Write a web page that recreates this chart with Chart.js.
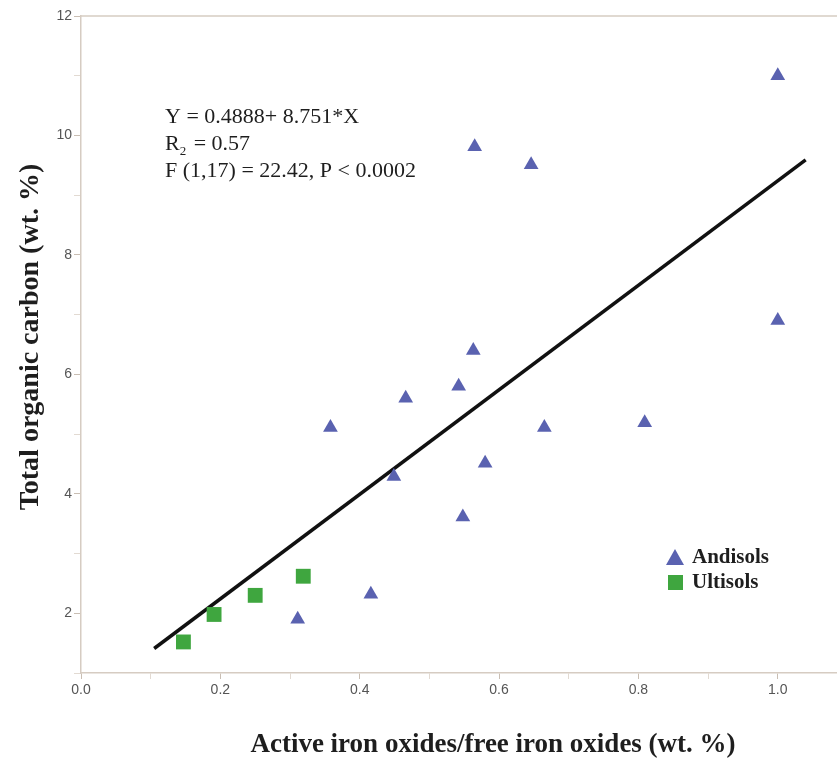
<!DOCTYPE html>
<html>
<head>
<meta charset="utf-8">
<script src="https://cdn.jsdelivr.net/npm/chart.js@4.4.0/dist/chart.umd.min.js"></script>
<style>
   html, body { margin: 0; padding: 0; background: #fff; }
   #wrap { width: 837px; height: 758px; position: relative; }
</style>
</head>
<body>
<div id="wrap"><canvas id="myChart"></canvas></div>
<script>
"use strict";

// Andisols (triangles)
const andisolsX = [1.0, 0.565, 0.646, 1.0, 0.563, 0.542, 0.466, 0.358, 0.665, 0.809, 0.580, 0.449, 0.548, 0.416, 0.311];
const andisolsY = [11.0, 9.81, 9.51, 6.9, 6.40, 5.80, 5.60, 5.11, 5.11, 5.19, 4.51, 4.29, 3.61, 2.32, 1.90];

// Ultisols (squares)
const ultisolsX = [0.147, 0.191, 0.250, 0.319];
const ultisolsY = [1.52, 1.98, 2.30, 2.62];

// regression line end points
const fitX = [0.105, 1.04];
const fitY = [1.41, 9.59];

const yTicks = [2, 4, 6, 8, 10, 12];
const xTickValues = [0, 0.1, 0.2, 0.3, 0.4, 0.5, 0.6, 0.7, 0.8, 0.9, 1.0];
const xTicks = ["0.0", "", "0.2", "", "0.4", "", "0.6", "", "0.8", "", "1.0"];

const equationLines = ["Y = 0.4888+ 8.751*X", "R", "F (1,17) = 22.42, P < 0.0002"];

const axisColor = "#d6ccc2";
const triColor = "#5a62b0";
const sqColor = "#3fa63f";

function pts(xs, ys) {
   return xs.map((x, i) => ({ x: x, y: ys[i] }));
}

const overlay = {
   id: "overlay",
   afterDraw(chart) {
      const c = chart.ctx;
      const a = chart.chartArea;
      c.save();
      // top frame line
      c.strokeStyle = axisColor;
      c.lineWidth = 1.5;
      c.beginPath();
      c.moveTo(a.left, a.top);
      c.lineTo(a.right, a.top);
      c.stroke();

      // equation text
      const serif = "'Liberation Serif', 'Times New Roman', serif";
      c.fillStyle = "#1e1e1e";
      c.font = "22px " + serif;
      c.textBaseline = "middle";
      c.textAlign = "left";
      c.fillText(equationLines[0], 165, 117);
      c.fillText(equationLines[1], 165, 144);
      let w = c.measureText("R").width;
      c.font = "13px " + serif;
      c.fillText("2", 165 + w, 152);
      c.font = "22px " + serif;
      c.fillText("= 0.57", 165 + w + 14, 144);
      c.fillText(equationLines[2], 165, 171);

      // legend
      c.fillStyle = triColor;
      c.beginPath();
      c.moveTo(675, 549);
      c.lineTo(684, 565);
      c.lineTo(666, 565);
      c.closePath();
      c.fill();
      c.fillStyle = sqColor;
      c.fillRect(668, 575, 15, 15);
      c.fillStyle = "#1e1e1e";
      c.font = "bold 21px " + serif;
      c.fillText("Andisols", 692, 558);
      c.fillText("Ultisols", 692, 583);

      // axis titles
      c.font = "bold 27px " + serif;
      c.textAlign = "center";
      c.fillText("Active iron oxides/free iron oxides (wt. %)", 493, 745);
      c.translate(31, 337);
      c.rotate(-Math.PI / 2);
      c.font = "bold 28px " + serif;
      c.fillText("Total organic carbon (wt. %)", 0, 0);
      c.restore();
   },
};

const ctx = document.getElementById("myChart").getContext("2d");
const myChart = new Chart(ctx, {
   type: "scatter",
   data: {
      datasets: [
         {
            label: "Andisols",
            data: pts(andisolsX, andisolsY),
            pointStyle: "triangle",
            pointRadius: 8.5,
            backgroundColor: triColor,
            borderColor: triColor,
            borderWidth: 0,
         },
         {
            label: "Ultisols",
            data: pts(ultisolsX, ultisolsY),
            pointStyle: "rect",
            pointRadius: 10.5,
            backgroundColor: sqColor,
            borderColor: sqColor,
            borderWidth: 0,
         },
         {
            label: "fit",
            data: pts(fitX, fitY),
            showLine: true,
            pointRadius: 0,
            borderColor: "#111",
            borderWidth: 3.5,
         },
      ],
   },
   options: {
      responsive: true,
      maintainAspectRatio: false,
      animation: false,
      layout: { autoPadding: false, padding: { top: 16, right: 0, left: 0, bottom: 0 } },
      plugins: {
         legend: { display: false },
         tooltip: { enabled: false },
      },
      scales: {
         x: {
            type: "linear",
            min: 0,
            max: 1.085,
            afterBuildTicks(scale) {
               scale.ticks = xTickValues.map((v) => ({ value: v }));
            },
            afterFit(scale) {
               scale.height = 85;
               scale.paddingLeft = 0;
               scale.paddingRight = 0;
            },
            ticks: {
               padding: 3,
               color: "#555",
               font: { family: "'Liberation Sans Narrow', 'Liberation Sans', sans-serif", size: 14 },
               callback(v, i) {
                  return xTicks[i];
               },
            },
            grid: {
               drawOnChartArea: false,
               drawTicks: true,
               tickLength: 6,
               color: (c) => (c.index % 2 === 0 ? "#c9beb3" : "#e2dad2"),
            },
            border: { color: axisColor, width: 1.5 },
         },
         y: {
            type: "linear",
            min: 1,
            max: 12,
            afterFit(scale) {
               scale.width = 81;
            },
            ticks: {
               stepSize: 1,
               padding: 2,
               color: "#555",
               font: { family: "'Liberation Sans Narrow', 'Liberation Sans', sans-serif", size: 14 },
               callback(v) {
                  return yTicks.includes(v) ? String(v) : "";
               },
            },
            grid: {
               drawOnChartArea: false,
               drawTicks: true,
               tickLength: 7,
               color: (c) => (c.tick && yTicks.includes(c.tick.value) ? "#c9beb3" : "#e2dad2"),
            },
            border: { color: axisColor, width: 1.5 },
         },
      },
   },
   plugins: [overlay],
});
</script>
</body>
</html>
